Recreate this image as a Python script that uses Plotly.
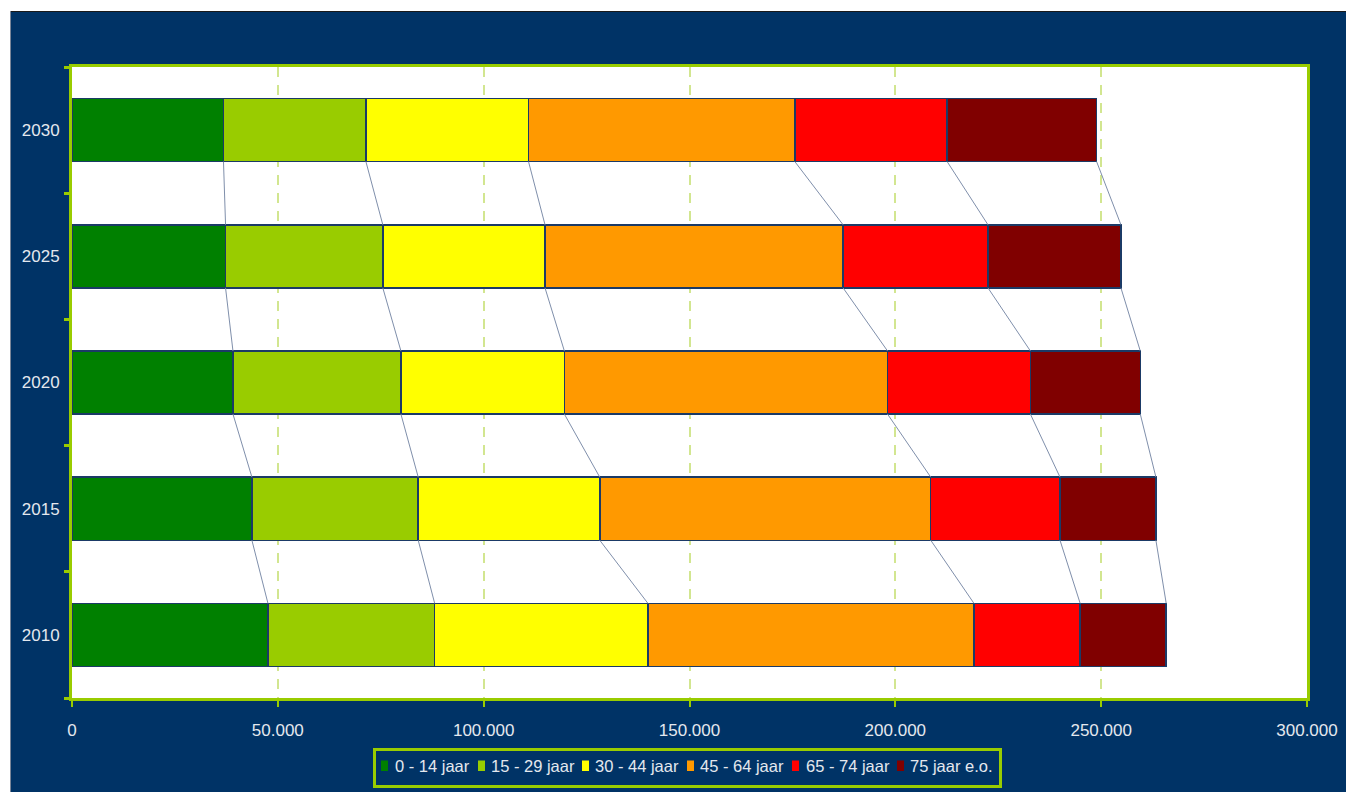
import plotly.graph_objects as go

years = ["2010", "2015", "2020", "2025", "2030"]
series_names = ["0 - 14 jaar", "15 - 29 jaar", "30 - 44 jaar", "45 - 64 jaar", "65 - 74 jaar", "75 jaar e.o."]
colors = ["#008000", "#99cc00", "#ffff00", "#ff9900", "#ff0000", "#800000"]

age_0_14 = [47600, 43700, 39100, 37300, 36800]
age_15_29 = [40500, 40400, 40800, 38200, 34600]
age_30_44 = [51800, 44100, 39700, 39400, 39500]
age_45_64 = [79200, 80400, 78500, 72400, 64700]
age_65_74 = [25800, 31400, 34700, 35200, 37000]
age_75_plus = [20900, 23300, 26700, 32300, 36300]

series_values = [age_0_14, age_15_29, age_30_44, age_45_64, age_65_74, age_75_plus]
x_ticks = [0, 50000, 100000, 150000, 200000, 250000, 300000]

NAVY = "#003366"
GREEN = "#99cc00"
TXT = "#e4e8ee"
FONT = "Liberation Sans, Arial, sans-serif"
BAR_W = 0.5

# figure geometry (pixels)
FIG_W, FIG_H = 1346, 792
ML, MR, MT, MB = 72, 39, 67, 94
PW, PH = FIG_W - ML - MR, FIG_H - MT - MB


def px_x(p):
    return (p - ML) / PW


def px_y(p):
    return (FIG_H - MB - p) / PH


ypos = list(range(len(years)))
fig = go.Figure()

for name, vals, col in zip(series_names, series_values, colors):
    fig.add_trace(go.Bar(
        y=ypos, x=vals, name=name, orientation="h", width=BAR_W,
        marker=dict(color=col, line=dict(color="#1b3a66", width=1.5)),
        showlegend=False,
    ))

# series lines connecting segment edges between consecutive bars
cum = [0] * len(years)
for vals in series_values:
    cum = [c + v for c, v in zip(cum, vals)]
    xs, ys = [], []
    for k in range(len(years) - 1):
        xs += [cum[k], cum[k + 1], None]
        ys += [k + BAR_W / 2, k + 1 - BAR_W / 2, None]
    fig.add_trace(go.Scatter(
        x=xs, y=ys, mode="lines", showlegend=False, hoverinfo="skip",
        line=dict(color="#7f8fab", width=1),
    ))

shapes = []
# white outer strips (top and left) of the image
shapes.append(dict(type="rect", xref="paper", yref="paper",
                   x0=px_x(0), x1=px_x(FIG_W), y0=px_y(11), y1=px_y(0),
                   fillcolor="white", line=dict(width=0), layer="above"))
shapes.append(dict(type="rect", xref="paper", yref="paper",
                   x0=px_x(0), x1=px_x(10), y0=px_y(FIG_H), y1=px_y(0),
                   fillcolor="white", line=dict(width=0), layer="above"))
shapes.append(dict(type="line", xref="paper", yref="paper",
                   x0=px_x(10), x1=px_x(FIG_W), y0=px_y(11.5), y1=px_y(11.5),
                   line=dict(color="#1a1a1a", width=1), layer="above"))
shapes.append(dict(type="line", xref="paper", yref="paper",
                   x0=px_x(10.5), x1=px_x(10.5), y0=px_y(FIG_H), y1=px_y(11),
                   line=dict(color="#7a8699", width=1), layer="above"))

# manual legend
shapes.append(dict(type="rect", xref="paper", yref="paper",
                   x0=px_x(374.5), x1=px_x(1000.5), y0=px_y(786.5), y1=px_y(749.5),
                   fillcolor=NAVY, line=dict(color=GREEN, width=3), layer="above"))
sym_left = [381, 478, 582, 687, 792, 897]
txt_left = [394, 490, 594, 699, 805, 909]
annotations = []
for name, col, sx, tx in zip(series_names, colors, sym_left, txt_left):
    shapes.append(dict(type="rect", xref="paper", yref="paper",
                       x0=px_x(sx), x1=px_x(sx + 7), y0=px_y(771), y1=px_y(760.5),
                       fillcolor=col, line=dict(width=0), layer="above"))
    annotations.append(dict(xref="paper", yref="paper", x=px_x(tx), y=px_y(766),
                            xanchor="left", yanchor="middle", text=name, showarrow=False,
                            font=dict(family=FONT, size=16.5, color=TXT), borderpad=0))

fig.update_layout(
    width=FIG_W, height=FIG_H, autosize=False,
    barmode="stack",
    paper_bgcolor=NAVY,
    plot_bgcolor="white",
    margin=dict(l=ML, r=MR, t=MT, b=MB, autoexpand=False),
    separators=",.",
    font=dict(family=FONT, size=17, color=TXT),
    showlegend=False,
    hovermode=False,
    shapes=shapes,
    annotations=annotations,
    xaxis=dict(
        range=[0, 300000], tickvals=x_ticks, tickformat=",d",
        automargin=False,
        showgrid=True, gridcolor="#d2e690", griddash="10px,8px", gridwidth=1.5,
        zeroline=False,
        showline=True, linecolor=GREEN, linewidth=3, mirror=True,
        ticks="outside", tickcolor=GREEN, ticklen=6, tickwidth=2,
        ticklabelstandoff=9,
        tickfont=dict(family=FONT, size=17, color=TXT),
    ),
    yaxis=dict(
        range=[-0.5, 4.5], tickvals=ypos, ticktext=years,
        automargin=False,
        showgrid=False, zeroline=False,
        showline=True, linecolor=GREEN, linewidth=3, mirror=True,
        ticks="", ticklabelstandoff=6,
        tickfont=dict(family=FONT, size=17, color=TXT),
        minor=dict(tickvals=[-0.5, 0.5, 1.5, 2.5, 3.5, 4.5], ticks="outside",
                   ticklen=5, tickwidth=3, tickcolor=GREEN, showgrid=False),
    ),
)

fig.write_html("out.html",
               config={"displayModeBar": False, "responsive": False},
               post_script="document.body.style.margin='0';document.body.style.overflow='hidden';")
